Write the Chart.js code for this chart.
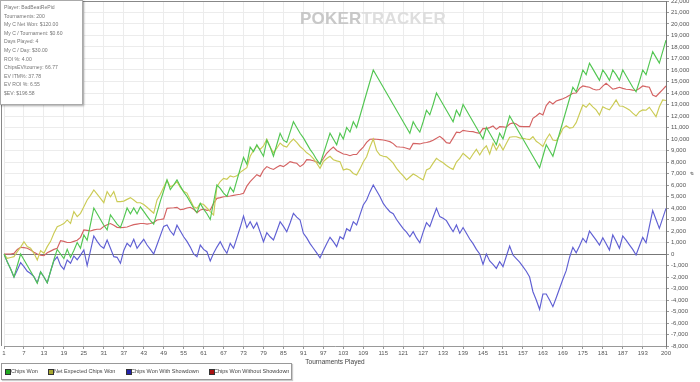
<!DOCTYPE html>
<html><head><meta charset="utf-8">
<script src="https://cdn.jsdelivr.net/npm/chart.js@4.4.1/dist/chart.umd.min.js"></script>
<style>
html,body{margin:0;padding:0;background:#fff;}
#wrap{position:relative;width:700px;height:382px;overflow:hidden;}
canvas{position:absolute;left:0;top:0;}
#info{position:absolute;left:0;top:0;width:83px;height:105px;background:#fff;border:1px solid #aaa;box-shadow:1px 1px 2px rgba(0,0,0,0.35);font:5.1px "Liberation Sans",Arial,sans-serif;color:#777;padding:2px 0 0 3px;box-sizing:border-box;}
#info div{height:8.6px;line-height:8.6px;white-space:nowrap;}
#wm{position:absolute;left:300px;top:9px;font:bold 17px "Liberation Sans",Arial,sans-serif;letter-spacing:0.2px;white-space:nowrap;}
#legend{position:absolute;left:1px;top:363px;width:289px;height:15px;border:1px solid #999;box-shadow:1px 1px 1px rgba(0,0,0,0.2);font:5.5px "Liberation Sans",Arial,sans-serif;color:#444;background:#fff;}
.sw{position:absolute;top:5px;width:4px;height:4px;border:1px solid #333;}
.lt{position:absolute;top:4px;white-space:nowrap;}
</style>
</head><body>
<div id="wrap">
<canvas id="c" width="700" height="382"></canvas>
<div id="wm"><span style="color:#c8c8c8">POKER</span><span style="color:#dedede">TRACKER</span></div>
<div id="info">
<div>Player: BadBeatRePid</div>
<div>Tournaments: 200</div>
<div>My C Net Won: $120.00</div>
<div>My C / Tournament: $0.60</div>
<div>Days Played: 4</div>
<div>My C / Day: $30.00</div>
<div>ROI %: 4.00</div>
<div>ChipsEV/tourney: 66.77</div>
<div>EV ITM%: 37.78</div>
<div>EV ROI %: 6.55</div>
<div>$EV: $196.58</div>
</div>
<div id="legend">
<span class="sw" style="left:3px;background:#22aa22"></span><span class="lt" style="left:9px">Chips Won</span>
<span class="sw" style="left:46px;background:#a8a830"></span><span class="lt" style="left:52px">Net Expected Chips Won</span>
<span class="sw" style="left:124px;background:#2222aa"></span><span class="lt" style="left:129px">Chips Won With Showdown</span>
<span class="sw" style="left:207px;background:#aa1111"></span><span class="lt" style="left:212px">Chips Won Without Showdown</span>
</div>
</div>
<script>
const tournaments = Array.from({length:200},(_,i)=>i+1);

const chipsWon = [
0,-700,-1300,-2000,-1000,0,-500,-1000,-1500,-2000,
-2550,-1550,-2000,-2500,-1500,-500,400,0,-400,400,
-300,300,1000,500,1650,1200,2600,4000,3500,3000,
2500,2100,3400,3000,2600,2300,3100,4000,3500,4000,
3500,4100,3700,3300,2900,2600,3600,4600,5500,6450,
5600,6000,6450,5900,5400,5000,4500,4000,3600,4400,
3900,3500,3000,4500,6000,5700,5300,5000,5800,5400,
6400,7400,8400,7800,9300,8900,9500,9000,8500,9900,
9300,8500,9500,10500,9900,9700,10600,11500,11000,10500,
10100,9600,9100,8700,8200,7800,8700,9600,10500,10000,
9500,10500,10000,11000,10600,11500,11000,12000,13000,14000,
15000,16000,15500,15000,14500,14000,13500,13000,12500,12000,
11500,11000,10500,11500,11000,10600,11500,12500,12100,13000,
14000,13500,13000,12500,12000,11500,12500,12000,13000,12500,
12000,11500,11000,10500,10000,11000,10500,10000,9500,10500,
10000,11000,12000,11500,11000,10500,10000,9500,9000,8500,
8000,7500,8500,9500,9000,8500,9500,10500,11500,12500,
13500,14500,14100,15000,16000,15600,16600,16100,15600,15100,
16000,15600,15100,16000,15600,15100,16000,15500,15000,14500,
14100,15000,16000,15600,16600,17600,17100,16600,17600,18600
];

const netExpected = [
0,-370,-300,-230,200,600,1070,640,500,60,
-520,290,60,640,1100,1800,2380,2500,2650,2960,
2670,3680,3250,3540,4110,4700,5100,5570,5200,4840,
4460,5420,4980,5420,4550,4550,4600,4750,4900,4700,
4460,4460,4300,4060,3800,3540,4700,5200,5800,6400,
5850,6000,6290,5800,5450,5300,4700,4100,3970,4400,
4300,4000,3680,3390,5850,6300,6580,6500,6790,6700,
6800,7100,7300,7500,8500,9000,9400,9100,9400,9980,
9300,8800,9200,9650,9400,9300,9700,10000,9700,9350,
9100,8800,8600,8300,7900,7450,8030,8300,8500,8200,
8100,8030,7310,7400,7300,7000,6870,7400,8000,8460,
9300,10000,9000,8600,8500,8450,8200,7900,7450,7100,
6800,6440,6700,6960,6800,6600,6440,7310,7450,7900,
8320,8100,7940,7700,7500,7360,8000,8320,8760,8500,
8240,8700,9100,8610,9100,9400,8700,9620,9050,9570,
9050,9600,10150,10200,10200,10100,10060,10000,9950,10200,
9800,9600,9350,9980,10430,9910,9850,10300,10900,11150,
10950,11000,11420,12200,12960,12760,13100,12800,12530,12090,
12800,12650,12530,12950,13400,12870,12850,12700,12530,12250,
12000,12380,12530,12500,12760,12350,11940,12800,13400,13350
];

const withShowdown = [
0,-700,-1300,-2000,-1400,-750,-1100,-1500,-1700,-1970,
-2500,-1550,-2000,-2500,-1500,-600,-250,-1000,-1330,-520,
-800,-170,-500,-100,350,-1000,300,1570,1100,700,
500,1220,500,-230,-290,-810,300,930,640,1280,
500,900,1280,780,400,0,800,1600,2400,2520,
2000,1650,2500,2000,1500,1100,600,0,-230,780,
400,200,-600,60,600,1070,500,60,930,500,
1400,2300,3300,2300,2810,2230,2720,1900,1070,1850,
1500,1220,2000,2810,2400,1940,2700,3540,3200,2960,
1800,1400,900,500,100,-330,300,900,1450,1070,
640,1500,1300,2200,2000,2810,2520,3400,4260,4700,
5400,6000,5500,5000,4400,4000,3680,3500,3000,2600,
2200,1900,1500,1940,1400,980,1900,2720,2380,3200,
3970,3250,3100,2900,2400,1940,2520,1800,2300,1800,
1300,900,400,0,-900,0,-600,-900,-1250,-670,
-1100,-200,700,-90,-400,-700,-1100,-1500,-2000,-3280,
-4000,-4810,-3480,-3480,-4000,-4580,-3800,-3000,-2200,-1450,
-300,580,100,700,1370,1000,2000,1600,1200,780,
1420,900,350,1650,1100,500,1570,1200,800,400,
-90,700,1450,980,2400,3770,3000,2230,3100,3970
];

const withoutShowdown = [
0,0,0,50,400,580,550,500,350,150,
0,-100,-150,100,250,400,500,1160,1100,1000,
1000,1100,1200,1450,2090,2050,2000,2100,2150,2150,
2400,2550,2650,2500,2320,2300,2320,2350,2450,2550,
2600,2650,2650,2600,2650,2750,2960,3000,3050,3970,
4000,4020,4060,3850,3900,4000,4060,3900,3600,3830,
3900,3800,3830,4400,4840,4900,4980,5000,5040,5100,
5150,5200,5280,5900,6300,6600,6900,6750,7300,7600,
7450,7350,7550,7700,7600,7800,8030,7950,7890,7600,
7800,8200,8180,8110,8000,7890,8300,8760,9050,9300,
9000,8850,8700,8650,8550,8650,8650,9000,9300,9700,
9980,9990,9980,9950,9910,9850,9770,9600,9330,9300,
9280,9200,9100,9620,9600,9570,9650,9700,9770,9900,
10060,10230,10000,9680,9620,10100,10600,10550,10750,10700,
10650,10640,10550,10500,10930,10900,10990,11130,10840,11070,
11050,11020,11300,11400,11300,11100,11070,11070,11070,11800,
12000,12240,12090,12900,13250,13050,13300,13400,13500,13630,
13800,13980,14000,14400,14610,14550,14500,14350,14260,14300,
14600,14850,14600,14330,14400,14500,14400,14330,14300,14250,
14220,14400,14610,14550,14500,13830,13700,14000,14300,14610
];

const seriesNames = ['Chips Won','Net Expected Chips Won','Chips Won With Showdown','Chips Won Without Showdown'];
const seriesColors = ['#52c652','#cbcb55','#5f5fd3','#d46363'];

const frame = {
  id:'frame',
  afterDraw(chart){
    const {ctx, chartArea:a} = chart;
    ctx.save();
    ctx.strokeStyle = '#888';
    ctx.lineWidth = 1;
    ctx.beginPath();
    ctx.moveTo(0, a.top + 0.5); ctx.lineTo(a.right, a.top + 0.5);
    ctx.moveTo(1.5, 0); ctx.lineTo(1.5, a.bottom);
    ctx.stroke();
    ctx.restore();
  }
};

const font = {family:'"Liberation Sans", Arial, sans-serif', size:6};

new Chart(document.getElementById('c'), {
  type:'line',
  data:{
    labels: tournaments,
    datasets:[
      {label:seriesNames[0], data:chipsWon, borderColor:seriesColors[0], backgroundColor:seriesColors[0]},
      {label:seriesNames[1], data:netExpected, borderColor:seriesColors[1], backgroundColor:seriesColors[1]},
      {label:seriesNames[2], data:withShowdown, borderColor:seriesColors[2], backgroundColor:seriesColors[2]},
      {label:seriesNames[3], data:withoutShowdown, borderColor:seriesColors[3], backgroundColor:seriesColors[3]}
    ]
  },
  options:{
    responsive:false, animation:false, devicePixelRatio:1,
    layout:{padding:{left:4,right:5,top:1,bottom:16}},
    plugins:{legend:{display:false}, tooltip:{enabled:false}},
    elements:{point:{radius:0}, line:{borderWidth:1.15, tension:0}},
    scales:{
      x:{
        type:'category', offset:false,
        grid:{color:'#ececec', tickLength:3, tickColor:'#999'},
        border:{color:'#999'},
        ticks:{autoSkip:false, maxRotation:0, padding:1, font:font, color:'#555',
          callback:(v,i)=> ((i%6===0 && i<=192) || i===199) ? String(tournaments[i]) : null},
        title:{display:true, text:'Tournaments Played', font:{family:font.family,size:6.5}, color:'#444', padding:0},
        afterFit:s=>{s.height=20;}
      },
      y:{
        position:'right', min:-8000, max:22000,
        ticks:{stepSize:1000, autoSkip:false, font:font, color:'#555', padding:2},
        grid:{color:c=> (c.tick && c.tick.value===0) ? '#777' : '#ececec', tickLength:3, tickColor:'#999'},
        border:{color:'#777'},
        title:{display:true, text:'#', font:{family:font.family,size:6}, color:'#444', padding:0},
        afterFit:s=>{s.width=29; s.paddingTop=0; s.paddingBottom=0;}
      }
    }
  },
  plugins:[frame]
});
</script>
</body></html>
